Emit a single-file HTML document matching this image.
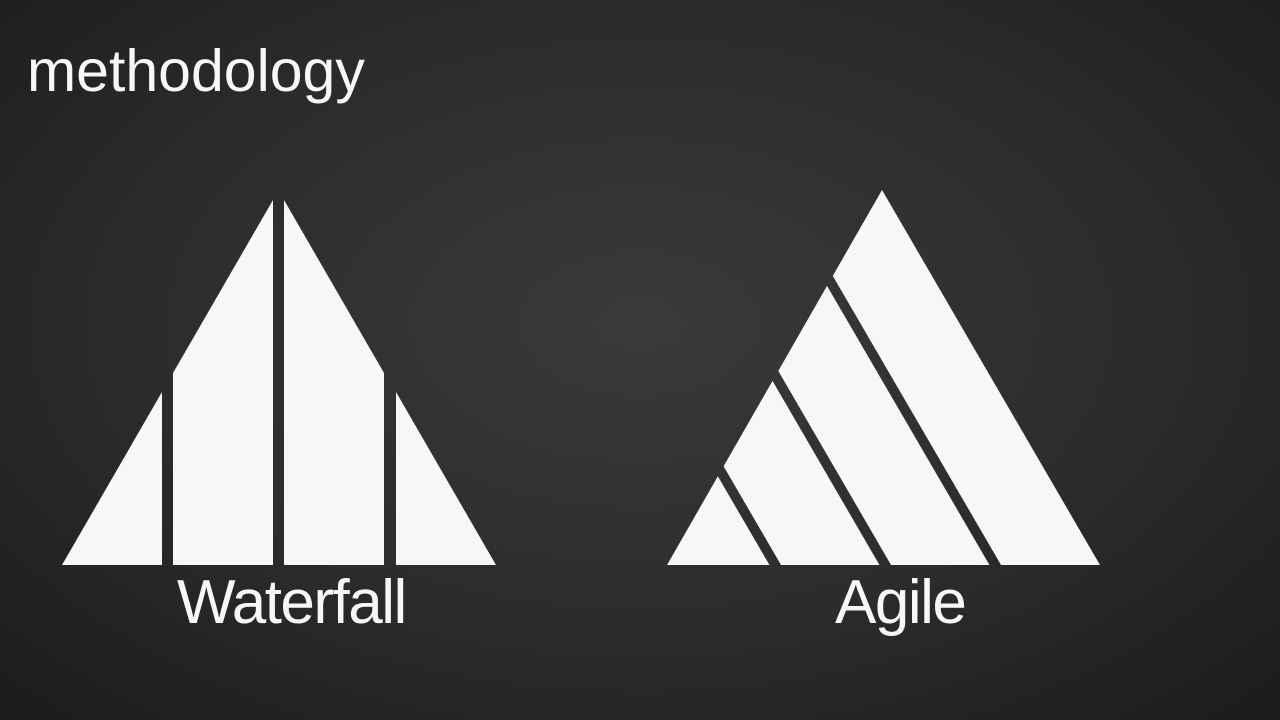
<!DOCTYPE html>
<html><head><meta charset="utf-8"><style>
html,body{margin:0;padding:0;}
body{width:1280px;height:720px;overflow:hidden;background:radial-gradient(ellipse 70% 75% at 50% 45%,#3a3a3a 0%,#2c2c2c 55%,#1c1c1c 100%);font-family:"Liberation Sans",Arial,sans-serif;position:relative;}
.t{position:absolute;color:#f7f7f7;letter-spacing:-1.5px;}
</style></head><body>
<svg width="1280" height="720" style="position:absolute;left:0;top:0">
<defs>
<mask id="m">
<rect x="0" y="0" width="1280" height="720" fill="white"/>
<g stroke="black" stroke-width="10">
<line x1="777" y1="568" x2="667" y2="379"/>
<line x1="887" y1="568" x2="722" y2="284"/>
<line x1="997" y1="568" x2="777" y2="190"/>
</g>
</mask>
</defs>
<g fill="#f7f7f7">
<polygon points="62,565 162,392 162,565"/>
<polygon points="173,373 273,200 273,565 173,565"/>
<polygon points="284,200 384,373 384,565 284,565"/>
<polygon points="396,392 496,565 396,565"/>
<polygon points="882,190 1100,565 667,565" mask="url(#m)"/>
</g>
</svg>
<div class="t" style="left:27px;top:37px;font-size:59px;letter-spacing:0px;">methodology</div>
<div class="t" style="left:177px;top:567px;font-size:62px;">Waterfall</div>
<div class="t" style="left:835px;top:567px;font-size:62px;">Agile</div>
</body></html>
